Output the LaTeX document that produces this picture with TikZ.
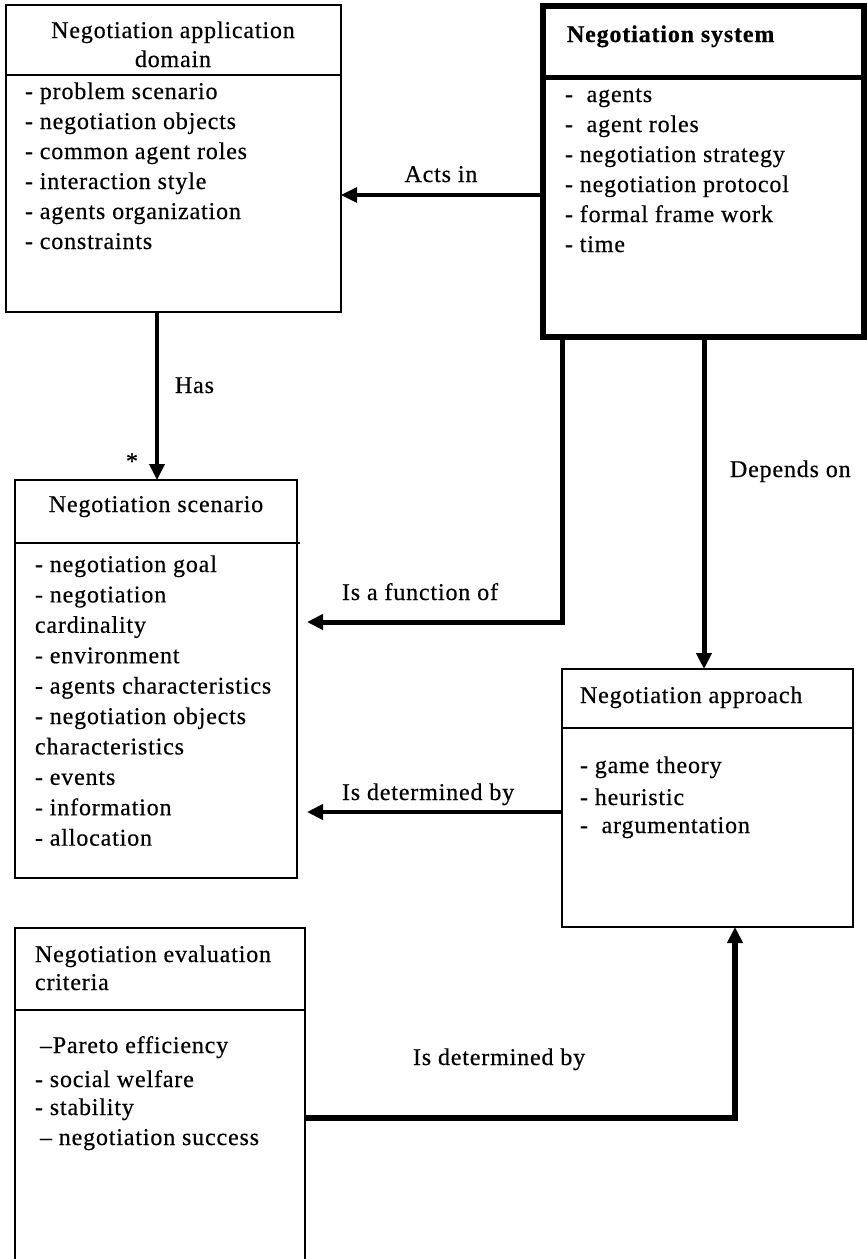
\documentclass[tikz,border=0pt]{standalone}
\usepackage{fontspec}
\setmainfont{Liberation Serif}[LetterSpace=3.5, FakeBold=0.5]
\usetikzlibrary{arrows.meta}
\tikzset{
  txt/.style={inner sep=0pt, outer sep=0pt, font=\fontsize{24}{30}\selectfont},
  umlbox/.style={draw, line width=2.2pt, anchor=north west, inner sep=0pt, outer sep=0pt},
  sysbox/.style={umlbox, line width=6pt},
  sepline/.style={line width=2.2pt},
  conn/.style={-{Triangle[length=16pt,width=15pt]}},
}
\begin{document}
\begin{tikzpicture}[x=1pt,y=-1pt]
\clip (0,0) rectangle (867,1259);
\fill[white] (0,0) rectangle (867,1259);

% class boxes
\node[umlbox, minimum width=335pt, minimum height=307pt] (dom) at (6,5) {};
\node[sysbox, minimum width=321pt, minimum height=331pt] (sys) at (543,6) {};
\node[umlbox, minimum width=282pt, minimum height=398pt] (scn) at (15,480) {};
\node[umlbox, minimum width=291pt, minimum height=258pt] (app) at (562,669) {};
\node[umlbox, minimum width=290pt, minimum height=400pt] (eval) at (15,928) {};

% compartment separators
\draw[sepline] (dom.west |- 0,75) -- (dom.east |- 0,75);
\draw[line width=5pt] (sys.west |- 0,77) -- (sys.east |- 0,77);
\draw[sepline] (scn.west |- 0,543) -- ([xshift=3pt]scn.east |- 0,543);
\draw[sepline] (app.west |- 0,728) -- (app.east |- 0,728);
\draw[sepline] (eval.west |- 0,1010) -- (eval.east |- 0,1010);

% Negotiation application domain
\node[txt, anchor=base] (domt1) at (173,38) {Negotiation application};
\node[txt, anchor=base] (domt2) at (173,67) {domain};
\foreach \t [count=\i from 0] in {- problem scenario, - negotiation objects, - common agent roles, - interaction style, - agents organization, - constraints}
  \node[txt, anchor=base west] (dom\i) at (25,99+30*\i) {\t};

% Negotiation system
\node[txt, anchor=base west, font=\fontsize{24}{30}\selectfont\bfseries] (syst) at (567,42) {Negotiation system};
\foreach \t [count=\i from 0] in {-\ \ agents, -\ \ agent roles, - negotiation strategy, - negotiation protocol, - formal frame work, - time}
  \node[txt, anchor=base west] (sys\i) at (565,102+30*\i) {\t};

% Negotiation scenario
\node[txt, anchor=base] (scnt) at (156,512) {Negotiation scenario};
\foreach \t [count=\i from 0] in {- negotiation goal, - negotiation, cardinality, - environment, - agents characteristics, - negotiation objects, characteristics, - events, - information, - allocation}
  \node[txt, anchor=base west] (scn\i) at (35,572+30.4*\i) {\t};

% Negotiation approach
\node[txt, anchor=base west] (appt) at (580,703) {Negotiation approach};
\node[txt, anchor=base west] (app0) at (580,773) {- game theory};
\node[txt, anchor=base west] (app1) at (580,805) {- heuristic};
\node[txt, anchor=base west] (app2) at (580,833) {-\ \ argumentation};

% Negotiation evaluation criteria
\node[txt, anchor=base west] (evt1) at (35,962) {Negotiation evaluation};
\node[txt, anchor=base west] (evt2) at (35,990) {criteria};
\node[txt, anchor=base west] (ev0) at (40,1053) {–Pareto efficiency};
\node[txt, anchor=base west] (ev1) at (35,1087) {- social welfare};
\node[txt, anchor=base west] (ev2) at (35,1115) {- stability};
\node[txt, anchor=base west] (ev3) at (40,1145) {– negotiation success};

% associations
\draw[conn, line width=3.3pt] (sys.west |- 0,195) -- (dom.east |- 0,195);
\draw[conn, line width=3.6pt] (dom.south -| 157,0) -- (scn.north -| 157,0);
\draw[conn, line width=5pt, shorten >=10pt] (sys.south -| 562,0) |- (scn.east |- 0,622);
\draw[conn, line width=5pt] (sys.south -| 704,0) -- (app.north -| 704,0);
\draw[conn, line width=4pt, shorten >=10pt] (app.west |- 0,812) -- (scn.east |- 0,812);
\draw[conn, line width=6pt] (eval.east |- 0,1118) -| (app.south -| 735,0);

% association labels
\node[txt, anchor=base] (lacts) at (441,182) {Acts in};
\node[txt, anchor=base west] (lhas) at (175,393) {Has};
\node[txt, anchor=base] (lmult) at (132,469) {*};
\node[txt, anchor=base west] (ldep) at (730,477) {Depends on};
\node[txt, anchor=base west] (lfun) at (342,600) {Is a function of};
\node[txt, anchor=base west] (ldet1) at (342,800) {Is determined by};
\node[txt, anchor=base west] (ldet2) at (413,1065) {Is determined by};
\end{tikzpicture}
\end{document}
